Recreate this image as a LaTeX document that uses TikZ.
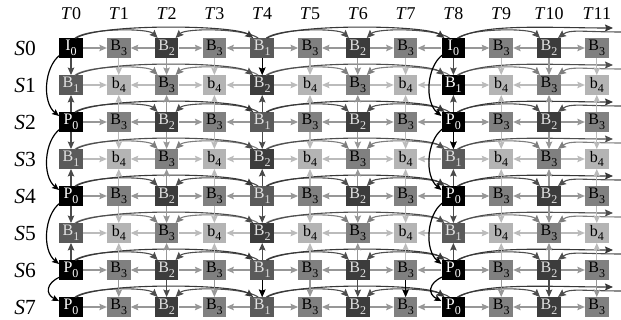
\documentclass[tikz,border=0pt]{standalone}
\usepackage{fontspec}
\setmainfont{Liberation Serif}
\usetikzlibrary{arrows.meta,calc}
\newcommand\sub[1]{\raisebox{-4.5pt}{\fontsize{12}{12}\selectfont #1}}
\definecolor{cB1}{HTML}{5A5A5A}
\definecolor{cB2}{HTML}{3C3C3C}
\definecolor{cB3}{HTML}{808080}
\definecolor{cb4}{HTML}{B4B4B4}
\definecolor{tLight}{HTML}{E0E0E0}
\definecolor{aLight}{HTML}{BBBBBB}
\definecolor{aMid}{HTML}{979797}
\definecolor{aDark}{HTML}{4A4A4A}
\definecolor{arcM}{HTML}{7E7E7E}
\definecolor{arcD}{HTML}{4E4E4E}
\definecolor{arcL}{HTML}{383838}
\tikzset{
  box/.style={rectangle, minimum width=23.5pt, minimum height=19.5pt, inner sep=0pt,
    font=\fontsize{16}{16}\selectfont},
  arr/.style={-{Stealth[length=7.5pt,width=6.5pt,inset=1.2pt]}, line width=1.1pt},
  arcarr/.style={-{Stealth[length=8pt,width=7pt,inset=1.2pt]}, line width=1.1pt},
  boldarr/.style={-{Stealth[length=7pt,width=6pt,inset=1.2pt]}, line width=1.2pt, black},
  collbl/.style={font=\fontsize{18}{19}\selectfont, inner sep=0pt},
  rowlbl/.style={font=\fontsize{21.5}{22}\selectfont, inner sep=0pt}
}
\begin{document}
\begin{tikzpicture}[x=1pt,y=-1pt]
\useasboundingbox (0,0) rectangle (621,320);
% column and row labels
\foreach \c in {0,...,11}
  \node[collbl] (t\c) at ({71+47.8*\c},14) {\textit{T}\c};
\foreach \r in {0,...,7}
  \node[rowlbl] (s\r) at (25,{48+37*\r}) {\textit{S}\r};
% type A rows
\foreach \r/\pk in {0/I,2/P,4/P,6/P,7/P} {
  \foreach \c/\fc/\tc/\t in {0/black/white/{\pk\sub0},1/cB3/black/{B\sub3},2/cB2/tLight/{B\sub2},
     3/cB3/black/{B\sub3},4/cB1/tLight/{B\sub1},5/cB3/black/{B\sub3},6/cB2/tLight/{B\sub2},
     7/cB3/black/{B\sub3},8/black/white/{\pk\sub0},9/cB3/black/{B\sub3},10/cB2/tLight/{B\sub2},
     11/cB3/black/{B\sub3}}
    \node[box, fill=\fc, text=\tc] (n\r-\c) at ({71+47.8*\c},{48+37*\r}) {\t};
}
% type B rows
\foreach \r in {1,3,5} {
  \foreach \c/\fc/\tc/\t in {0/cB1/tLight/{B\sub1},1/cb4/black/{b\sub4},2/cB3/black/{B\sub3},
     3/cb4/black/{b\sub4},4/cB2/tLight/{B\sub2},5/cb4/black/{b\sub4},6/cB3/black/{B\sub3},
     7/cb4/black/{b\sub4},8/cB1/tLight/{B\sub1},9/cb4/black/{b\sub4},10/cB3/black/{B\sub3},
     11/cb4/black/{b\sub4}}
    \node[box, fill=\fc, text=\tc] (n\r-\c) at ({71+47.8*\c},{48+37*\r}) {\t};
}
\node[box, fill=black, text=white] (n1-8) at ({71+47.8*8},{48+37}) {B\sub1};
% arcs above each row
\foreach \r/\sc/\lc in {0/arcD/arcL,1/arcM/arcD,2/arcD/arcL,3/arcM/arcD,4/arcD/arcL,5/arcM/arcD,6/arcD/arcL,7/arcD/arcL} {
  \foreach \a/\b in {0/2,4/6,8/10}
    \draw[arcarr, color=\sc] ($(n\r-\a.north)+(4,0)$) .. controls +(14,-10) and +(-10,-10) .. ($(n\r-\b.north west)+(3,0)$);
  \foreach \a/\b in {4/2,8/6}
    \draw[arcarr, color=\sc] ($(n\r-\a.north)+(-4,0)$) .. controls +(-14,-10) and +(10,-10) .. ($(n\r-\b.north east)+(-3,0)$);
  \foreach \a/\b in {0/4,4/8}
    \draw[arcarr, color=\lc] ($(n\r-\a.north)+(5,0)$) .. controls +(25,-15) and +(-18,-13) .. ($(n\r-\b.north west)+(3,0)$);
  \coordinate (out\r) at (613,{48+37*\r-20});
  \coordinate (in\r) at (623,{48+37*\r-16});
  \draw[arcarr, color=\lc] ($(n\r-8.north)+(5,0)$) .. controls +(25,-15) and +(-60,0) .. (out\r);
  \draw[arcarr, color=\sc] (in\r) .. controls +(-40,0) and +(12,-9) .. ($(n\r-10.north east)+(-3,0)$);
}
% horizontal arrows
\foreach \r/\hc in {0/aMid,1/aLight,2/aMid,3/aLight,4/aMid,5/aLight,6/aMid,7/aMid} {
  \foreach \a/\b in {0/1,2/3,4/5,6/7,8/9,10/11}
    \draw[arr, color=\hc] (n\r-\a.east) -- (n\r-\b.west);
  \foreach \a/\b in {2/1,4/3,6/5,8/7,10/9}
    \draw[arr, color=\hc] (n\r-\a.west) -- (n\r-\b.east);
}
% vertical arrows
\foreach \c/\cb in {0/aDark,1/aLight,2/aMid,3/aLight,4/aDark,5/aLight,
   6/aMid,7/aLight,8/aDark,9/aLight,10/aMid,11/aLight} {
  \foreach \a/\b in {0/1,2/3,4/5}
    \draw[arr, color=\cb] (n\a-\c.south) -- (n\b-\c.north);
  \foreach \a/\b in {2/1,4/3,6/5}
    \draw[arr, color=\cb] (n\a-\c.north) -- (n\b-\c.south);
}
\foreach \c/\ca in {1/aMid,2/aDark,3/aMid,4/aDark,5/aMid,6/aDark,7/aMid,9/aMid,10/aDark,11/aMid}
  \draw[arr, color=\ca] (n6-\c.south) -- (n7-\c.north);
% black highlights
\draw[arr, black] (n0-4.south) -- (n1-4.north);
\draw[arr, black] (n6-4.south) -- (n7-4.north);
\draw[arr, black] (n6-7.south) -- (n7-7.north);
\draw[arr, black] (n2-8.south) -- (n3-8.north);
% bold curves between key pictures
\foreach \c in {0,8} {
  \foreach \a/\b in {0/2,2/4,4/6}
    \draw[boldarr] ($(n\a-\c.south west)+(1,-3)$) .. controls +(-16,12) and +(-17,-14) .. ($(n\b-\c.north west)+(0,4)$);
  \draw[boldarr] ($(n6-\c.south west)+(1,-3)$) .. controls +(-14,6) and +(-14,-7) .. ($(n7-\c.north west)+(0,4)$);
}
\end{tikzpicture}
\end{document}
